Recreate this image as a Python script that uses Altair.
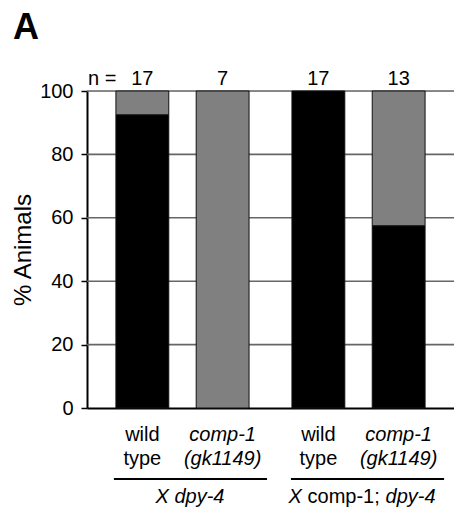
import altair as alt
import pandas as pd

FONT = "Liberation Sans"

groups = ["g1", "g1", "g2", "g2"]
genotypes = ["wt", "comp1", "wt", "comp1"]
black_pct = [92.5, 0, 100, 57.5]
n_labels = ["17", "7", "17", "13"]
geno_labels = ["wild\ntype", "comp-1\n(gk1149)", "wild\ntype", "comp-1\n(gk1149)"]
geno_italic = [False, True, False, True]
y_ticks = [0, 20, 40, 60, 80, 100]

rows = []
for g, gt, b in zip(groups, genotypes, black_pct):
    if b > 0:
        rows.append({"group": g, "genotype": gt, "segment": "black", "start": 0, "end": b})
    if b < 100:
        rows.append({"group": g, "genotype": gt, "segment": "gray", "start": b, "end": 100})
seg_df = pd.DataFrame(rows)

lab_df = pd.DataFrame({
    "group": groups, "genotype": genotypes, "n": n_labels,
    "label": geno_labels, "italic": geno_italic,
})
grid_df = pd.DataFrame({"tick": y_ticks[1:]})

W, H = 367, 317

x_enc = alt.X("group:N",
              scale=alt.Scale(domain=["g1", "g2"], paddingInner=0.2436, paddingOuter=0.1643),
              axis=alt.Axis(labels=False, ticks=False, title=None, domainColor="black",
                            domainWidth=2, grid=False))
xo_enc = alt.XOffset("genotype:N",
                     scale=alt.Scale(domain=["wt", "comp1"], paddingInner=0.3416, paddingOuter=0))
y_scale = alt.Scale(domain=[0, 100], nice=False)
y_axis = alt.Axis(values=y_ticks, tickSize=6, tickColor="black", tickWidth=1.5,
                  domainColor="black", domainWidth=2, grid=False,
                  labelFontSize=20, labelFont=FONT, labelColor="black",
                  labelPadding=8, title="% Animals", titleFont=FONT, titleFontSize=24,
                  titleFontWeight="normal", titleColor="black", titlePadding=4)

grid = alt.Chart(grid_df).mark_rule(color="#666666", strokeWidth=1.6).encode(
    y=alt.Y("tick:Q", scale=y_scale, axis=y_axis),
    x=alt.value(0), x2=alt.value(W))

bars = alt.Chart(seg_df).mark_bar(stroke="#111111", strokeWidth=1).encode(
    x=x_enc,
    xOffset=xo_enc,
    y=alt.Y("start:Q", scale=y_scale, axis=y_axis),
    y2="end:Q",
    color=alt.Color("segment:N", scale=alt.Scale(domain=["black", "gray"],
                                                  range=["#000000", "#808080"]), legend=None),
)

n_text = alt.Chart(lab_df).mark_text(font=FONT, fontSize=20, baseline="alphabetic",
                                     color="black").encode(
    x=alt.X("group:N"), xOffset=alt.XOffset("genotype:N"),
    y=alt.value(-6), text="n:N")

n_eq = alt.Chart(lab_df.head(1)).mark_text(font=FONT, fontSize=20, baseline="alphabetic",
                                           align="left", color="black").encode(
    x=alt.value(1), y=alt.value(-6), text=alt.value("n ="))

geno_norm = alt.Chart(lab_df).transform_filter("!datum.italic").mark_text(
    font=FONT, fontSize=20, baseline="alphabetic", lineBreak="\n", lineHeight=24,
    color="black").encode(
    x=alt.X("group:N"), xOffset=alt.XOffset("genotype:N"), y=alt.value(350), text="label:N")

geno_ital = alt.Chart(lab_df).transform_filter("datum.italic").mark_text(
    font=FONT, fontSize=20, fontStyle="italic", baseline="alphabetic", lineBreak="\n",
    lineHeight=24, color="black").encode(
    x=alt.X("group:N"), xOffset=alt.XOffset("genotype:N"), y=alt.value(350), text="label:N")

g1 = lab_df.head(1)
g2 = lab_df.iloc[[2]]

grp1_label = alt.Chart(g1).mark_text(font=FONT, fontSize=20, fontStyle="italic",
                                     baseline="alphabetic", dx=7.5, color="black").encode(
    x=alt.X("group:N"), y=alt.value(412), text=alt.value("X dpy-4"))

grp2_x = alt.Chart(g2).mark_text(font=FONT, fontSize=20, fontStyle="italic", align="left",
                                 baseline="alphabetic", dx=-70, color="black").encode(
    x=alt.X("group:N"), y=alt.value(412), text=alt.value("X"))
grp2_c = alt.Chart(g2).mark_text(font=FONT, fontSize=20, align="left",
                                 baseline="alphabetic", dx=-51, color="black").encode(
    x=alt.X("group:N"), y=alt.value(412), text=alt.value("comp-1;"))
grp2_d = alt.Chart(g2).mark_text(font=FONT, fontSize=20, fontStyle="italic", align="left",
                                 baseline="alphabetic", dx=27, color="black").encode(
    x=alt.X("group:N"), y=alt.value(412), text=alt.value("dpy-4"))

rule1 = alt.Chart(g1).mark_rule(color="black", strokeWidth=2).encode(
    x=alt.value({"expr": "scale('x', 'g1') - 2"}),
    x2=alt.value({"expr": "scale('x', 'g1') + bandwidth('x') + 18"}),
    y=alt.value(388))
rule2 = alt.Chart(g2).mark_rule(color="black", strokeWidth=2).encode(
    x=alt.value({"expr": "scale('x', 'g2') - 1"}),
    x2=alt.value({"expr": "scale('x', 'g2') + bandwidth('x') + 19"}),
    y=alt.value(388))

panel = alt.Chart(g1).mark_text(font=FONT, fontSize=36, fontWeight="bold", align="left",
                                baseline="alphabetic", color="black").encode(
    x=alt.value(-74), y=alt.value(-52), text=alt.value("A"))

chart = alt.layer(grid, bars, n_text, n_eq, geno_norm, geno_ital, grp1_label, grp2_x, grp2_c,
                  grp2_d, rule1, rule2, panel).properties(
    width=W, height=H,
    autosize=alt.AutoSizeParams(type="none"),
    padding={"left": 87, "top": 91, "right": 0, "bottom": 106},
).configure_view(stroke=None).configure(background="white")

chart.save("out.html", embed_options={"renderer": "svg", "actions": False})
